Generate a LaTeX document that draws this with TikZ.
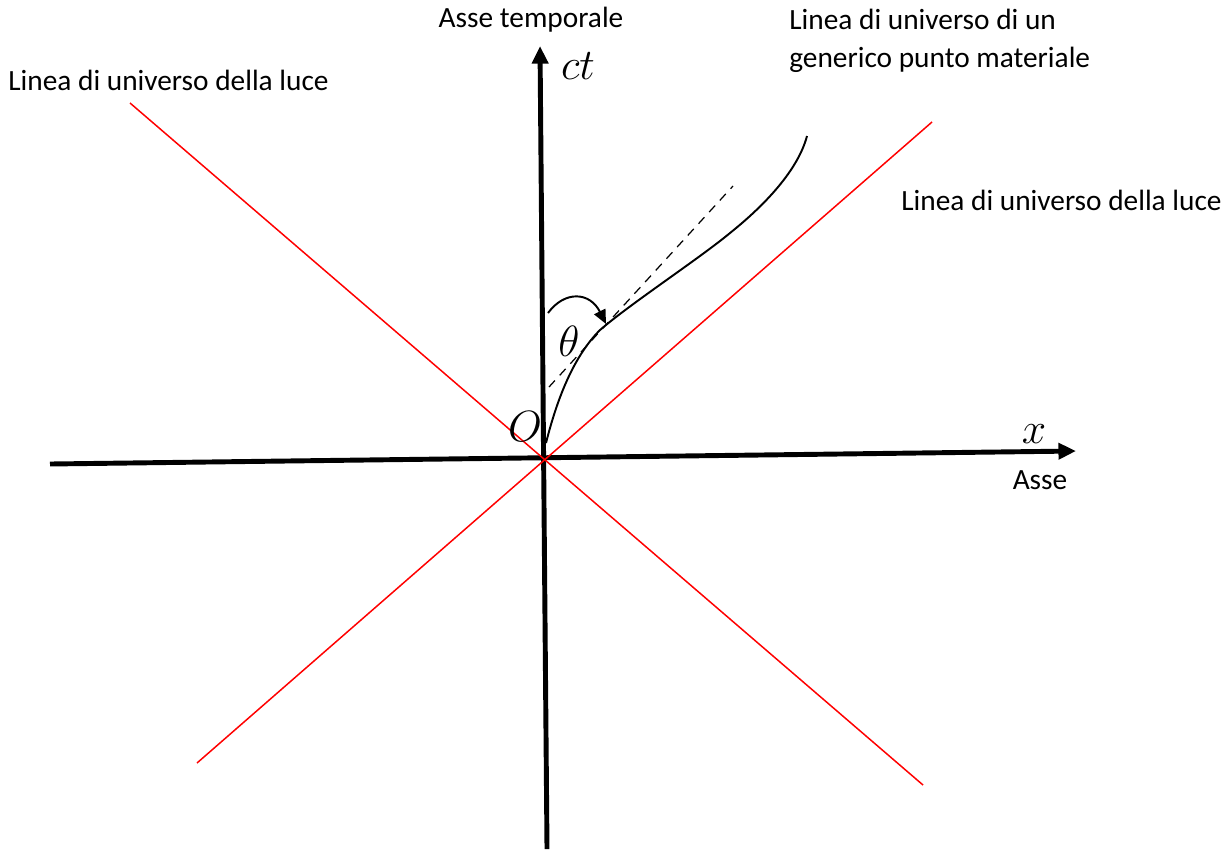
\documentclass[tikz,border=0pt]{standalone}
\usepackage{fontspec}
\setmainfont{Carlito}
\usetikzlibrary{arrows.meta}
\begin{document}
\begin{tikzpicture}[x=0.02cm,y=-0.02cm,
  axis/.style={line width=2.8pt,-{Triangle[length=10pt,width=9pt]}},
  light/.style={red,line width=0.85pt},
  world/.style={line width=1.1pt},
  lbl/.style={font=\fontsize{16.7}{21.6}\selectfont,inner sep=0pt},
  mlbl/.style={font=\fontsize{24}{26}\selectfont,inner sep=0pt}]
\useasboundingbox (0,0) rectangle (1222,849);
% axes
\coordinate (tbot) at (547,849);
\coordinate (ttop) at (540,46);
\coordinate (xl) at (50,464);
\coordinate (xr) at (1076,451);
\draw[axis] (tbot) -- (ttop);
\draw[axis] (xl) -- (xr);
% light lines
\coordinate (l1a) at (130,103);
\coordinate (l1b) at (923,785);
\coordinate (l2a) at (197,763);
\coordinate (l2b) at (932,122);
\draw[light] (l1a) -- (l1b);
\draw[light] (l2a) -- (l2b);
% world line
\coordinate (w0) at (546,443);
\coordinate (w1) at (600,330);
\coordinate (w2) at (730,233);
\coordinate (w3) at (807,136);
\draw[world] (w0) .. controls (558,395) and (575,355) .. (w1)
  .. controls (630,304) and (700,258) .. (w2)
  .. controls (765,205) and (798,170) .. (w3);
% tangent
\coordinate (ta) at (549,387);
\coordinate (tb) at (733,186);
\draw[line width=0.7pt,dash pattern=on 5pt off 4pt] (ta) -- (tb);
% angle arrow
\coordinate (aa) at (548,313);
\coordinate (ab) at (606,324);
\draw[line width=1.1pt,-{Triangle[length=8pt,width=7pt]}] (aa) .. controls (565,290) and (590,292) .. (ab);
% labels
\node[mlbl] (theta) at (569,341) {$\theta$};
\node[mlbl] (O) at (525,427) {$O$};
\node[mlbl] (ct) at (578,66) {$ct$};
\node[mlbl] (x) at (1034,434) {$x$};
\node[lbl] (asse) at (1040,480) {Asse};
\node[lbl] (assetemp) at (531,20) {Asse temporale};
\node[lbl,anchor=north west,align=left] (genr) at (789,9) {Linea di universo di un\\generico punto materiale};
\node[lbl,anchor=west] (lucel) at (8,80) {Linea di universo della luce};
\node[lbl,anchor=west] (lucer) at (901,200) {Linea di universo della luce};
\end{tikzpicture}
\end{document}
